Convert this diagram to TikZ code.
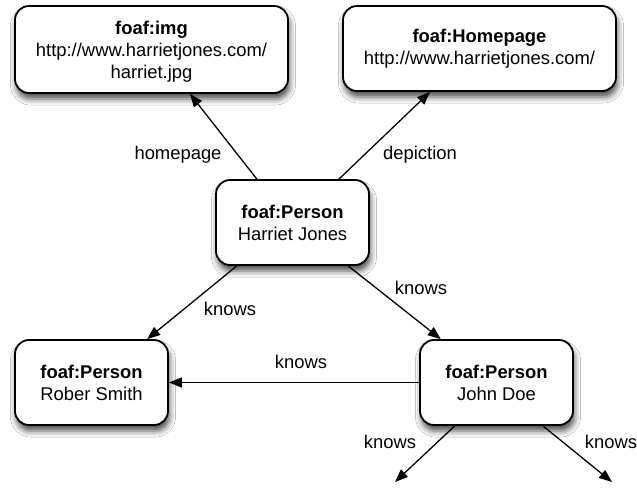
\documentclass[tikz,border=0pt]{standalone}
\usepackage{fontspec}
\setmainfont{Liberation Sans}
\usetikzlibrary{arrows.meta,shadows.blur,calc}
\begin{document}
\begin{tikzpicture}[x=1pt,y=-1pt,
  box/.style={draw=black, line width=1.8pt, rounded corners=14pt, fill=white,
    align=center, inner sep=0pt, minimum height=85pt,
    blur shadow={shadow xshift=1.5pt, shadow yshift=-6pt, shadow blur radius=6pt, shadow opacity=70},
    font=\fontsize{18.4}{22}\selectfont},
  link/.style={line width=1.3pt, -{Triangle[length=13pt,width=10pt]}},
  lbl/.style={font=\fontsize{18.4}{22}\selectfont, inner sep=0pt, text height=13pt, text depth=4pt}]
\useasboundingbox[fill=white] (0,0) rectangle (637,491);

\node[box, minimum width=273pt, minimum height=87pt, text depth=0pt] (img) at (151.5,49.5)
  {\textbf{foaf:img}\\http://www.harrietjones.com/\\harriet.jpg};
\node[box, minimum width=273pt] (home) at (479.5,48.5)
  {\textbf{foaf:Homepage}\\http://www.harrietjones.com/};
\node[box, minimum width=153pt] (hj) at (292.5,222.5) {\textbf{foaf:Person}\\Harriet Jones};
\node[box, minimum width=153pt] (rs) at (91.5,382.5) {\textbf{foaf:Person}\\Rober Smith};
\node[box, minimum width=153pt] (jd) at (496.5,382.5) {\textbf{foaf:Person}\\John Doe};

\coordinate (e1) at (395,482);
\coordinate (e2) at (612,482);

\draw[link] ($(hj.north west)!0.27!(hj.north east)$) -- ($(img.south west)!0.64!(img.south east)$);
\draw[link] ($(hj.north west)!0.80!(hj.north east)$) -- ($(home.south west)!0.32!(home.south east)$);
\draw[link] ($(hj.south west)!0.14!(hj.south east)$) -- ($(rs.north west)!0.86!(rs.north east)$);
\draw[link] ($(hj.south west)!0.86!(hj.south east)$) -- ($(jd.north west)!0.14!(jd.north east)$);
\draw[link] (jd.west) -- (rs.east);
\draw[link] ($(jd.south west)!0.23!(jd.south east)$) -- (e1);
\draw[link] ($(jd.south west)!0.80!(jd.south east)$) -- (e2);

\node[lbl] (l1) at (178,155) {homepage};
\node[lbl] (l2) at (420,155) {depiction};
\node[lbl] (l3) at (230,311) {knows};
\node[lbl] (l4) at (421,290) {knows};
\node[lbl] (l5) at (301,364) {knows};
\node[lbl] (l6) at (390,444) {knows};
\node[lbl] (l7) at (611,444) {knows};
\end{tikzpicture}
\end{document}
